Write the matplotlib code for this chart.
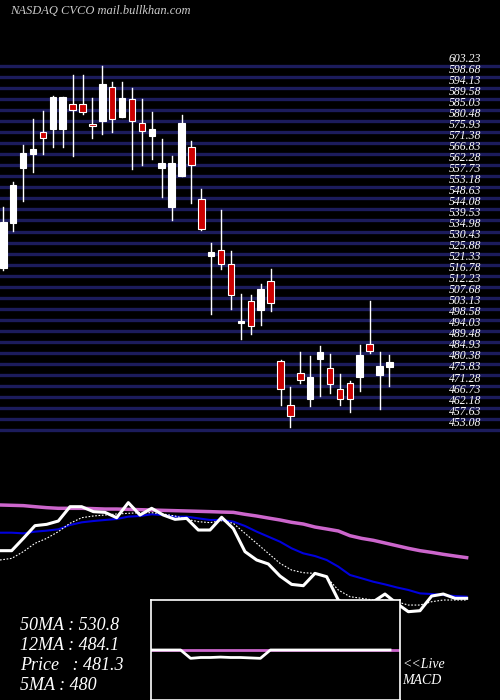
import matplotlib
matplotlib.use("Agg")
import matplotlib.pyplot as plt
from matplotlib.patches import Rectangle
import numpy as np

opens  = [520.0,538.6,561.3,566.8,576.1,577.4,577.4,587.4,587.4,579.2,580.7,594.4,582.1,589.5,579.6,574.5,561.0,545.2,558.0,569.7,
          548.5,525.0,527.3,521.4,497.1,506.4,502.6,514.7,481.7,463.4,476.5,466.1,482.6,478.9,469.9,472.6,475.1,488.8,476.0,479.2]
highs  = [545.2,555.5,570.6,581.4,584.7,590.9,590.6,599.5,599.5,590.2,603.2,596.8,596.8,594.0,589.6,584.1,573.1,566.2,583.0,572.3,
          552.5,530.1,543.8,526.9,509.2,509.0,513.2,519.5,481.8,470.7,485.4,483.6,487.7,484.4,476.2,473.3,488.1,506.3,485.1,484.0]
lows   = [519.0,535.3,547.7,559.6,566.9,569.9,569.9,566.2,583.4,573.4,575.2,576.1,582.0,560.7,562.4,564.9,549.3,539.7,557.9,546.9,
          535.6,500.9,519.5,503.0,490.6,492.7,496.4,502.2,463.4,454.4,472.6,463.0,467.1,468.5,463.4,460.6,469.3,484.7,461.6,471.4]
closes = [538.7,554.1,567.2,568.9,573.4,590.3,590.3,585.1,584.1,578.6,595.8,581.2,589.9,580.7,576.4,577.1,563.1,563.1,579.6,562.4,
          536.1,526.4,521.4,509.0,498.2,496.2,511.1,505.7,470.0,459.1,473.7,475.1,485.1,472.3,465.9,466.1,484.0,485.7,479.6,481.0]

price_line = [538.6,538.6,553.8,569.5,571.1,575.2,592.9,592.9,586.8,585.9,579.3,597.9,582.6,590.9,582.6,577.3,578.5,564.1,564.1,579.8,565.9,
              537.4,527.1,522.2,507.3,497.0,495.4,510.6,506.5,477.7,469.5,471.5,475.6,485.1,473.6,463.3,464.5,482.6,485.1,479.8,479.8]
ma5 = [527.1,529.1,537.4,547.7,553.8,562.1,572.4,579.3,581.4,582.6,583.9,584.7,585.5,585.5,583.9,581.4,577.3,574.4,573.2,575.6,572.4,
       560.0,547.7,535.3,523.0,514.7,511.4,510.6,505.7,490.1,481.8,479.8,477.7,477.7,475.6,471.5,471.5,475.6,477.7,477.7,477.7]
ma12 = [560.8,560.8,560.0,562.1,563.3,565.0,570.3,573.6,575.2,576.5,577.7,580.6,581.4,583.5,582.6,580.6,580.6,578.5,576.5,576.5,574.4,
        569.1,562.1,555.9,549.7,541.5,535.3,532.0,527.1,518.9,508.6,504.5,500.3,497.0,493.3,490.1,485.9,485.1,483.9,482.6,481.8]
ma50 = [595.0,594.6,594.2,592.9,591.7,590.9,590.9,590.9,590.5,590.0,590.0,589.6,589.2,588.8,588.4,588.0,587.6,587.2,586.8,586.3,585.9,
        583.5,581.4,578.9,576.5,573.6,571.5,567.8,565.4,562.9,557.1,553.8,551.4,548.1,544.8,541.5,538.6,536.5,534.1,532.0,530.0]

macd   = [0,0,0,0,-1.0,-0.9,-0.9,-0.85,-0.9,-0.9,-0.95,-1.0,0,0,0,0,0,0,0,0,0,0,0,0,0,0]
signal = [0]*26

grid_top, grid_step, n_grid = 603.23, 4.55, 34
legend = ["50MA : 530.8", "12MA : 484.1", "Price   : 481.3", "5MA : 480"]

W, H = 500, 700
fig = plt.figure(figsize=(5, 7), dpi=100, facecolor="black")
serif = "Liberation Serif"

# price panel: fig y pixels 0..460
ax = fig.add_axes([0, 1 - 460 / H, 1, 460 / H], facecolor="black")
ax.set_xlim(-0.333, 50.17)
ax.set_ylim(440.76, 630.45)
ax.axis("off")
for k in range(n_grid):
    v = grid_top - k * grid_step
    ax.axhline(v, color="#1c1c5c", lw=2.4, zorder=1)
    ax.text(45.0, v + 0.6, f"{v:.2f}".rstrip("0").rstrip("."), color="white", fontsize=8.5,
            family=serif, style="italic", va="bottom", ha="left", zorder=3)
for i, (o, h, l, c) in enumerate(zip(opens, highs, lows, closes)):
    col = "white" if c >= o else "#cc0000"
    ax.plot([i, i], [l, h], color="white", lw=1, zorder=2)
    ax.add_patch(Rectangle((i - 0.33, min(o, c)), 0.66, max(abs(c - o), 0.5),
                           facecolor=col, edgecolor="white", lw=0.8, zorder=4))
ax.text(0.02, 0.976, "NASDAQ CVCO mail.bullkhan.com", transform=ax.transAxes, color="#cccccc",
        fontsize=9, family=serif, style="italic", va="center")

# MA panel: fig y pixels 490..700
ax2 = fig.add_axes([0, 0, 1, 210 / H], facecolor="black")
ax2.set_xlim(0, 42.86)
ax2.set_ylim(354.3, 613.5)
ax2.axis("off")
x = np.arange(len(price_line))
ax2.plot(x, ma50, color="#cc66cc", lw=2.5)
ax2.plot(x, ma12, color="#0000dd", lw=1.5)
ax2.plot(x, ma5, color="white", lw=0.8, ls=(0, (1.5, 1.5)))
ax2.plot(x, price_line, color="white", lw=2.2)
for j, t in enumerate(legend):
    ax2.text(20 / W * 42.86, 0, "", color="white")
    fig.text(20 / W, 1 - (625 + 20 * j) / H, t, color="white", fontsize=13, family=serif,
             style="italic", va="center")
fig.text(402 / W, 1 - 665 / H, "<<Live", color="white", fontsize=10, family=serif, style="italic", va="center")
fig.text(402 / W, 1 - 681 / H, "MACD", color="white", fontsize=10, family=serif, style="italic", va="center")

# MACD box
ax3 = fig.add_axes([150.7 / W, 0, (400 - 150.7) / W, 100 / H], facecolor="black", zorder=5)
ax3.set_xlim(0, 25)
ax3.set_ylim(-6, 6)
ax3.set_xticks([]); ax3.set_yticks([])
for s in ax3.spines.values():
    s.set_color("white"); s.set_linewidth(1.2)
ax3.plot(np.arange(26), signal, color="#cc66cc", lw=2)
ax3.plot(np.arange(25), macd[:25], color="white", lw=2)

fig.savefig("out.png", dpi=100, facecolor="black")
